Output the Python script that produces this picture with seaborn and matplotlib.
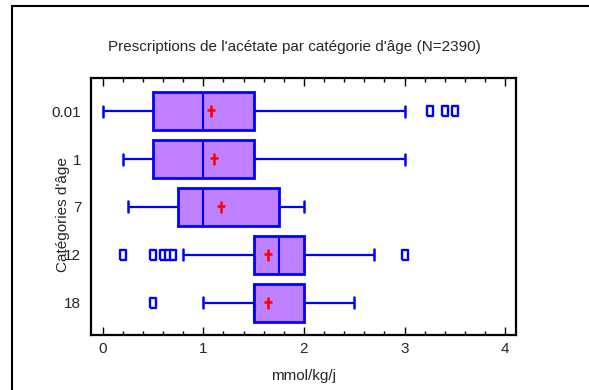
import numpy as np
import pandas as pd
import matplotlib
matplotlib.use("Agg")
import matplotlib.pyplot as plt
import matplotlib.patches as mpatches
from matplotlib.path import Path
from matplotlib.ticker import MultipleLocator
import seaborn as sns

# ---- data ----
categories = ["0.01", "1", "7", "12", "18"]
whisker_low = [0.0, 0.2, 0.25, 0.8, 1.0]
q1 = [0.5, 0.5, 0.75, 1.5, 1.5]
median = [1.0, 1.0, 1.0, 1.75, 1.5]
q3 = [1.5, 1.5, 1.75, 2.0, 2.0]
whisker_high = [3.0, 3.0, 2.0, 2.7, 2.5]
means = [1.08, 1.11, 1.18, 1.64, 1.64]
outlier_cat = ["0.01", "0.01", "0.01", "12", "12", "12", "12", "12", "12", "18"]
outlier_val = [3.25, 3.4, 3.5, 0.2, 0.5, 0.6, 0.65, 0.7, 3.0, 0.5]

title = "Prescriptions de l'acétate par catégorie d'âge (N=2390)"
xlabel = "mmol/kg/j"
ylabel = "Catégories d'âge"

# five-number summaries as long-form table
rows = []
for i, c in enumerate(categories):
    for v in (whisker_low[i], q1[i], median[i], q3[i], whisker_high[i]):
        rows.append({"cat": c, "val": v})
box_df = pd.DataFrame(rows)
mean_df = pd.DataFrame({"cat": categories, "val": means})
out_df = pd.DataFrame({"cat": outlier_cat, "val": outlier_val})

sns.set_style("white")
plt.rcParams["font.family"] = ["Liberation Sans", "DejaVu Sans"]

W, H = 589, 390
fig = plt.figure(figsize=(W / 100, H / 100), dpi=100)
ax = fig.add_axes([91 / W, 1 - 335 / H, (516 - 91) / W, (335 - 78) / H])

blue = "#0000FF"
sns.boxplot(data=box_df, x="val", y="cat", order=categories, orient="h",
            color="#BF80FF", saturation=1, width=0.8, whis=(0, 100),
            showfliers=False, linecolor=blue, linewidth=1.6,
            boxprops=dict(linewidth=2.0, edgecolor=blue),
            medianprops=dict(linewidth=1.5, color=blue),
            whiskerprops=dict(linewidth=1.6, color=blue),
            capprops=dict(linewidth=1.8, color=blue),
            ax=ax)

rect_marker = [(-0.33, -0.5), (0.33, -0.5), (0.33, 0.5), (-0.33, 0.5), (-0.33, -0.5)]
sns.stripplot(data=out_df, x="val", y="cat", order=categories, orient="h",
              jitter=False, marker=rect_marker, size=7, color="white",
              edgecolor=blue, linewidth=1.7, ax=ax, zorder=5)

cross = Path([(0, -0.5), (0, 0.5), (-0.32, 0.1), (0.32, 0.1)],
             [Path.MOVETO, Path.LINETO, Path.MOVETO, Path.LINETO])
sns.stripplot(data=mean_df, x="val", y="cat", order=categories, orient="h",
              jitter=False, marker=cross, size=9, color="red",
              edgecolor="red", linewidth=1.8, ax=ax, zorder=6)

# shorten caps
for ln in ax.lines:
    yd = np.asarray(ln.get_ydata(), dtype=float)
    xd = np.asarray(ln.get_xdata(), dtype=float)
    if len(xd) == 2 and np.isclose(xd[0], xd[1]) and not np.isclose(yd[0], yd[1]):
        c = (yd[0] + yd[1]) / 2
        half = abs(yd[1] - yd[0]) / 2
        if half < 0.39:
            ln.set_ydata([c - 0.115, c + 0.115])

ax.set_xlim(-0.116, 4.108)
ax.set_ylim(4.67, -0.69)
ax.xaxis.set_major_locator(MultipleLocator(1))
ax.xaxis.set_minor_locator(MultipleLocator(0.2))
ax.tick_params(axis="x", which="both", direction="in", top=True, bottom=True,
               color="black", labelsize=11, pad=5, width=1)
ax.tick_params(axis="x", which="major", length=6)
ax.tick_params(axis="x", which="minor", length=3)
ax.tick_params(axis="y", which="both", length=0, labelsize=11, pad=7)
for sp in ax.spines.values():
    sp.set_color("black")
    sp.set_linewidth(1.6)
    sp.set_visible(True)

ax.set_xlabel(xlabel, fontsize=11)
ax.xaxis.set_label_coords(0.5, -(376 - 335) / 257, transform=ax.transAxes)
ax.xaxis.label.set_va("center")
ax.set_ylabel(ylabel, fontsize=11)
ax.yaxis.set_label_coords(-0.05, 1 - (215 - 78) / 257)

fig.text(0.5, 1 - 47 / H, title, ha="center", va="center", fontsize=11)

# outer frame (left and top visible)
frame = mpatches.Rectangle((12 / W, -0.1), 1.2, 1 - 6 / H + 0.1,
                           transform=fig.transFigure, fill=False,
                           edgecolor="black", linewidth=1.5)
fig.patches.append(frame)

fig.savefig("out.png", dpi=100)
